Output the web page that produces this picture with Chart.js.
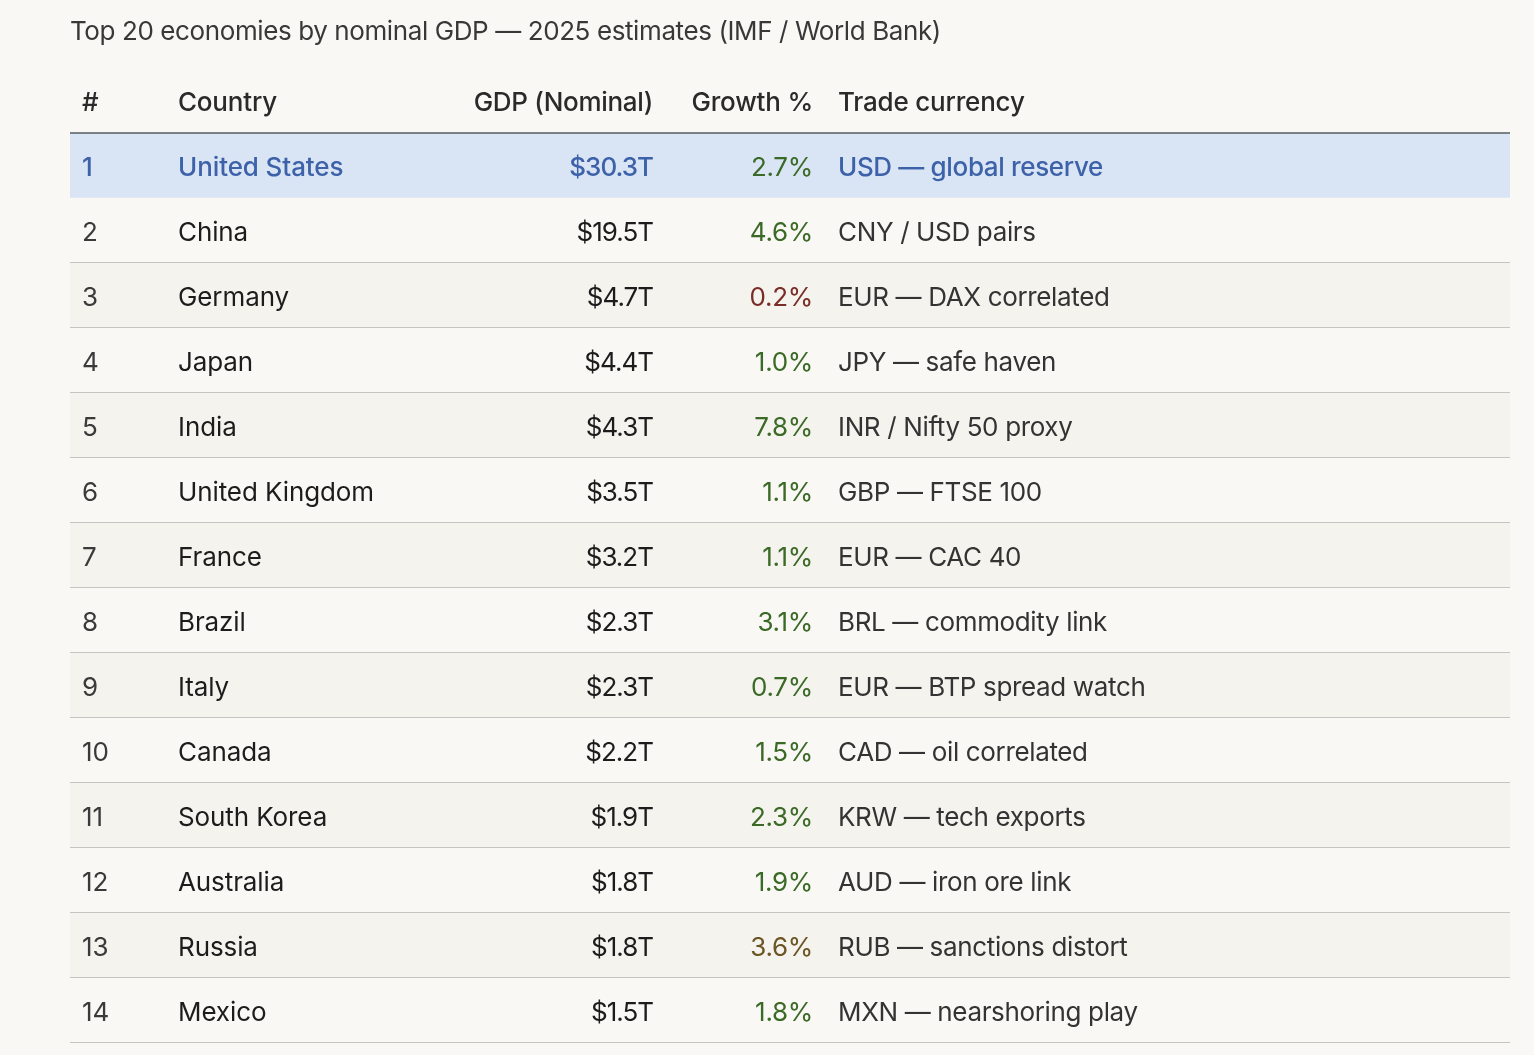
<!DOCTYPE html>
<html>
<head>
<meta charset="utf-8">
<script src="https://cdn.jsdelivr.net/npm/chart.js@4"></script>
<style>
  html, body { margin: 0; padding: 0; background: #f9f8f4; }
  #wrap { width: 1534px; height: 1055px; position: relative; }
</style>
</head>
<body>
<div id="wrap"><canvas id="c" aria-label="Top 20 economies by nominal GDP — 2025 estimates (IMF / World Bank)"></canvas></div>
<script>
const titleText = "Top 20 economies by nominal GDP — 2025 estimates (IMF / World Bank)";
const headers = ["#", "Country", "GDP (Nominal)", "Growth %", "Trade currency"];
const ranks = [1, 2, 3, 4, 5, 6, 7, 8, 9, 10, 11, 12, 13, 14];
const countries = ["United States", "China", "Germany", "Japan", "India", "United Kingdom", "France",
  "Brazil", "Italy", "Canada", "South Korea", "Australia", "Russia", "Mexico"];
const gdpTrillions = [30.3, 19.5, 4.7, 4.4, 4.3, 3.5, 3.2, 2.3, 2.3, 2.2, 1.9, 1.8, 1.8, 1.5];
const growthPct = [2.7, 4.6, 0.2, 1.0, 7.8, 1.1, 1.1, 3.1, 0.7, 1.5, 2.3, 1.9, 3.6, 1.8];
const growthTone = ["pos", "pos", "weak", "pos", "pos", "pos", "pos", "pos", "pos", "pos", "pos", "pos", "caution", "pos"];
const tradeCurrency = ["USD — global reserve", "CNY / USD pairs", "EUR — DAX correlated", "JPY — safe haven",
  "INR / Nifty 50 proxy", "GBP — FTSE 100", "EUR — CAC 40", "BRL — commodity link", "EUR — BTP spread watch",
  "CAD — oil correlated", "KRW — tech exports", "AUD — iron ore link", "RUB — sanctions distort", "MXN — nearshoring play"];
const highlightRank = 1;

// styles
const FONT = "Inter, 'Noto Sans', sans-serif";
const toneColor = { pos: "#3b6926", weak: "#7a2c26", caution: "#6a5523" };
const colX = { rank: 12, country: 108, gdp: 583, growth: 743, trade: 768 }; // offsets from table left
const colAlign = ["left", "left", "right", "right", "left"];
const colSpacing = ["-0.2px", "-0.1px", "-1px", "-0.3px", "-0.35px"];

const tablePlugin = {
  id: "tableText",
  beforeDatasetsDraw(chart) {
    const { ctx } = chart;
    ctx.save();
    ctx.fillStyle = "#f9f8f4";
    ctx.fillRect(0, 0, chart.width, chart.height);
    ctx.restore();
  },
  afterDatasetsDraw(chart) {
    const { ctx, chartArea: a, scales } = chart;
    const y = scales.y;
    const cols = [colX.rank, colX.country, colX.gdp, colX.growth, colX.trade];
    ctx.save();
    // title
    ctx.textBaseline = "middle";
    ctx.textAlign = "left";
    ctx.fillStyle = "#383838";
    ctx.font = "400 26px " + FONT;
    ctx.letterSpacing = "-0.4px";
    ctx.fillText(titleText, a.left, 32);
    // header
    ctx.font = "500 26px " + FONT;
    ctx.fillStyle = "#2a2a2a";
    headers.forEach((h, i) => {
      ctx.textAlign = colAlign[i];
      ctx.letterSpacing = i === 2 ? "-0.3px" : "-0.2px";
      ctx.fillText(h, a.left + cols[i], 103.5);
    });
    // row separators
    const step = (y.getPixelForValue(1) - y.getPixelForValue(0));
    ctx.strokeStyle = "#c5c4c0";
    ctx.lineWidth = 1;
    countries.forEach((c, i) => {
      if (ranks[i] === highlightRank) return;
      const yy = Math.floor(y.getPixelForValue(i) + step / 2) + 0.5;
      ctx.beginPath();
      ctx.moveTo(a.left, yy);
      ctx.lineTo(a.right, yy);
      ctx.stroke();
    });
    // header line
    ctx.strokeStyle = "#595c62";
    ctx.lineWidth = 1.5;
    ctx.beginPath();
    ctx.moveTo(a.left, a.top + 0.5);
    ctx.lineTo(a.right, a.top + 0.5);
    ctx.stroke();
    // cells
    countries.forEach((c, i) => {
      const cy = y.getPixelForValue(i) + 3;
      const hl = ranks[i] === highlightRank;
      const w = hl ? "500 " : "400 ";
      const cells = [
        { t: String(ranks[i]), col: hl ? "#3d62a9" : "#3a3a3a" },
        { t: c, col: hl ? "#3d62a9" : "#1c1c1c" },
        { t: "$" + gdpTrillions[i].toFixed(1) + "T", col: hl ? "#3d62a9" : "#1c1c1c" },
        { t: growthPct[i].toFixed(1) + "%", col: toneColor[growthTone[i]] },
        { t: tradeCurrency[i], col: hl ? "#3d62a9" : "#333333" }
      ];
      cells.forEach((cell, k) => {
        ctx.font = (k === 3 ? "400 " : w) + "26px " + FONT;
        ctx.fillStyle = cell.col;
        ctx.textAlign = colAlign[k];
        ctx.letterSpacing = colSpacing[k];
        ctx.fillText(cell.t, a.left + cols[k], cy);
      });
    });
    ctx.restore();
  }
};

const bandColors = ranks.map((r, i) => r === highlightRank ? "#d9e5f4" : (i % 2 === 0 ? "#f4f3ee" : "rgba(0,0,0,0)"));

new Chart(document.getElementById("c"), {
  type: "bar",
  data: {
    labels: countries,
    datasets: [{
      data: countries.map(() => 1),
      backgroundColor: bandColors,
      borderWidth: 0,
      barPercentage: 1,
      categoryPercentage: 1
    }]
  },
  options: {
    indexAxis: "y",
    responsive: true,
    maintainAspectRatio: false,
    animation: false,
    layout: { padding: { top: 132.5, left: 70, right: 24, bottom: 12.5 } },
    scales: {
      x: { display: false, min: 0, max: 1 },
      y: { display: false, offset: true }
    },
    plugins: { legend: { display: false }, tooltip: { enabled: false }, title: { display: false } }
  },
  plugins: [tablePlugin]
});
</script>
</body>
</html>
